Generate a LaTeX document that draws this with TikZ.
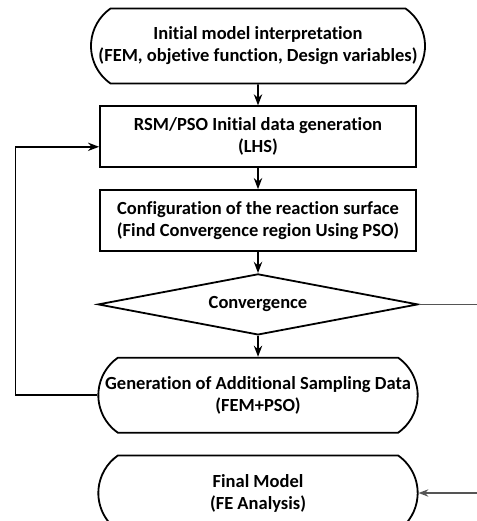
\documentclass[tikz,border=0pt]{standalone}
\usepackage{fontspec}
\setmainfont[RawFeature={-liga}]{Carlito}
\usetikzlibrary{arrows.meta,positioning,shapes.geometric,shapes.misc}
\definecolor{FlowLine}{HTML}{000000}
\definecolor{ExitLine}{HTML}{555555}
\tikzset{>=Stealth,every node/.style={font=\fontsize{18.5}{22}\selectfont\bfseries},
 block/.style={draw=FlowLine,line width=1.8pt,minimum width=316pt,minimum height=61pt,align=center},
 term/.style={rounded rectangle,rounded rectangle arc length=110,draw=FlowLine,line width=1.8pt,
 minimum width=326pt,minimum height=75pt,align=center},
 decision/.style={diamond,aspect=5.2,draw=FlowLine,line width=1.8pt,minimum width=320pt,minimum height=61pt,inner sep=0pt},
 flow/.style={->,line width=1.8pt,draw=FlowLine}}

\begin{document}
\begin{tikzpicture}[x=1pt,y=-1pt,node distance=21pt]
\useasboundingbox (0,0) rectangle (476,521);
\node[term,minimum width=323pt] (init) at (258,46) {Initial model interpretation\\(FEM, objetive function, Design variables)};
\node[block,below=of init] (rsm) {RSM/PSO Initial data generation\\(LHS)};
\node[block,below=of rsm] (surf) {Configuration of the reaction surface\\(Find Convergence region Using PSO)};
\node[decision,below=of surf] (conv) {Convergence};
\node[term,below=of conv] (extra) {Generation of Additional Sampling Data\\(FEM+PSO)};
\node[term,below=of extra] (final) {Final Model\\(FE Analysis)};
\draw[flow] (init) -- (rsm);
\draw[flow] (rsm) -- (surf);
\draw[flow] (surf) -- (conv);
\draw[flow] (conv) -- (extra);
% loop back for more samples
\draw[flow] (extra.west) -- ++(-82,0) |- ([yshift=-10pt]rsm.west);
% converged: leave to the final model
\draw[->,line width=1.5pt,ExitLine] (conv.east) -- ++(90,0) |- (final.east);
\end{tikzpicture}
\end{document}
